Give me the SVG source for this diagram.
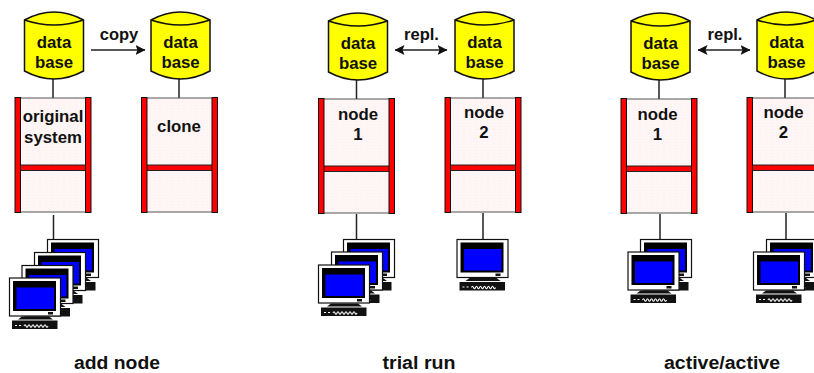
<svg xmlns="http://www.w3.org/2000/svg" xmlns:xlink="http://www.w3.org/1999/xlink" width="814" height="373" viewBox="0 0 814 373">
<style>
text{font-family:"Liberation Sans",Arial,sans-serif;font-weight:700;fill:#111;text-anchor:middle}
.l{font-size:16.8px}
.c{font-size:16.5px}
.t{font-size:17.5px}
.line{stroke:#222;stroke-width:1.5;fill:none}
</style>
<defs>
<pattern id="p" width="6" height="3" patternUnits="userSpaceOnUse">
<rect width="6" height="3" fill="#fff9f9"/>
<path d="M0 2q1.5-2 3 0t3 0" fill="none" stroke="#fce4e4" stroke-width=".7"/>
</pattern>
<marker id="a" viewBox="0 0 10 10" refX="9.5" refY="5" markerWidth="10" markerHeight="10.500" markerUnits="userSpaceOnUse" orient="auto-start-reverse">
<path d="M0 0L10 5L0 10L2 5z" fill="#111"/>
</marker>
<g id="db">
<path d="M0 8Q29.5-8 59 8V59Q29.5 75 0 59Z" fill="#ff0" stroke="#111" stroke-width="1.500"/>
<path d="M0 8Q29.5 18 59 8" fill="none" stroke="#111" stroke-width="1.500"/>
</g>
<g id="sys">
<rect x="4" y="0.500" width="69" height="114" fill="url(#p)" stroke="#555" stroke-width="1"/>
<rect x="5" y="67.500" width="67" height="5.500" fill="#f00" stroke="#222" stroke-width="1"/>
<rect x="0.500" y="0" width="5.500" height="115" fill="#f00" stroke="#111" stroke-width="1"/>
<rect x="71" y="0" width="5.500" height="115" fill="#f00" stroke="#111" stroke-width="1"/>
</g>
<g id="pc">
<rect x=".5" y=".5" width="51" height="38" fill="#fff" stroke="#111" stroke-width="1.200"/>
<rect x="4" y="3.500" width="43" height="30" fill="#000"/>
<rect x="7.500" y="10" width="37.500" height="21.500" fill="#00f"/>
<rect x="39" y="34.500" width="5" height="2.500" fill="#111"/>
<path d="M13 39H40L44 42H9Z" fill="#111"/>
<rect x="3" y="43" width="45.500" height="8.500" fill="#111"/>
<path d="M6 48h2M10 48h2M15 48.500q1-2.400 2 0t2 0t2 0t2 0t2 0t2 0t2 0t2 0t2 0t2 0t2 0t2 0" fill="none" stroke="#fff" stroke-width="1.100"/>
</g>
</defs>
<g id="connectors">
<path class="line" d="M53 79V98M179 79V98M356.500 80V99M483 79V98M659 80V99M785 79V98"/>
<path class="line" d="M53.500 215V239M356.500 214V239M483 213V239M660 214V239M786 213V239"/>
<path class="line" d="M91 50H145" marker-end="url(#a)"/>
<path class="line" d="M395 50H447" marker-start="url(#a)" marker-end="url(#a)"/>
<path class="line" d="M698 50H750" marker-start="url(#a)" marker-end="url(#a)"/>
</g>
<g id="db-a1"><use href="#db" x="24.500" y="12"/><text class="l" x="54" y="48">data</text><text class="l" x="54" y="68">base</text></g>
<g id="db-a2"><use href="#db" x="151" y="12"/><text class="l" x="180.500" y="48">data</text><text class="l" x="180.500" y="68">base</text></g>
<g id="sys-a1"><use href="#sys" x="14.500" y="97.500"/><text class="l" x="53" y="122">original</text><text class="l" x="53" y="143">system</text></g>
<g id="sys-a2"><use href="#sys" x="141" y="97.500"/><text class="l" x="179" y="132">clone</text></g>
<g id="pcs-a"><use href="#pc" x="47" y="239"/><use href="#pc" x="34" y="252"/><use href="#pc" x="21.500" y="265"/><use href="#pc" x="9" y="277.500"/></g>
<g id="db-b1"><use href="#db" x="328.500" y="13"/><text class="l" x="358" y="49">data</text><text class="l" x="358" y="69">base</text></g>
<g id="db-b2"><use href="#db" x="455" y="12"/><text class="l" x="484.500" y="48">data</text><text class="l" x="484.500" y="68">base</text></g>
<g id="sys-b1"><use href="#sys" x="318" y="98.500"/><text class="l" x="358" y="120">node</text><text class="l" x="358" y="140">1</text></g>
<g id="sys-b2"><use href="#sys" x="444.500" y="97.500"/><text class="l" x="484" y="118">node</text><text class="l" x="484" y="138">2</text></g>
<g id="pcs-b1"><use href="#pc" x="343" y="239"/><use href="#pc" x="331" y="251.500"/><use href="#pc" x="318" y="264.500"/></g>
<g id="pc-b2"><use href="#pc" x="456.500" y="239"/></g>
<g id="db-c1"><use href="#db" x="631" y="13"/><text class="l" x="660.500" y="49">data</text><text class="l" x="660.500" y="69">base</text></g>
<g id="db-c2"><use href="#db" x="757" y="12"/><text class="l" x="786.500" y="48">data</text><text class="l" x="786.500" y="68">base</text></g>
<g id="sys-c1"><use href="#sys" x="620.500" y="98.500"/><text class="l" x="657.500" y="120">node</text><text class="l" x="657.500" y="140">1</text></g>
<g id="sys-c2"><use href="#sys" x="746.500" y="97.500"/><text class="l" x="783.500" y="118">node</text><text class="l" x="783.500" y="138">2</text></g>
<g id="pcs-c1"><use href="#pc" x="640" y="239"/><use href="#pc" x="627.500" y="251.500"/></g>
<g id="pcs-c2"><use href="#pc" x="766" y="239"/><use href="#pc" x="753" y="251.500"/></g>
<text class="c" x="119" y="40">copy</text>
<text class="c" x="421.500" y="40">repl.</text>
<text class="c" x="725" y="40">repl.</text>
<text class="t" x="117" y="369" textLength="86" lengthAdjust="spacingAndGlyphs">add node</text>
<text class="t" x="419" y="369" textLength="73" lengthAdjust="spacingAndGlyphs">trial run</text>
<text class="t" x="722" y="369" textLength="116" lengthAdjust="spacingAndGlyphs">active/active</text>
</svg>
